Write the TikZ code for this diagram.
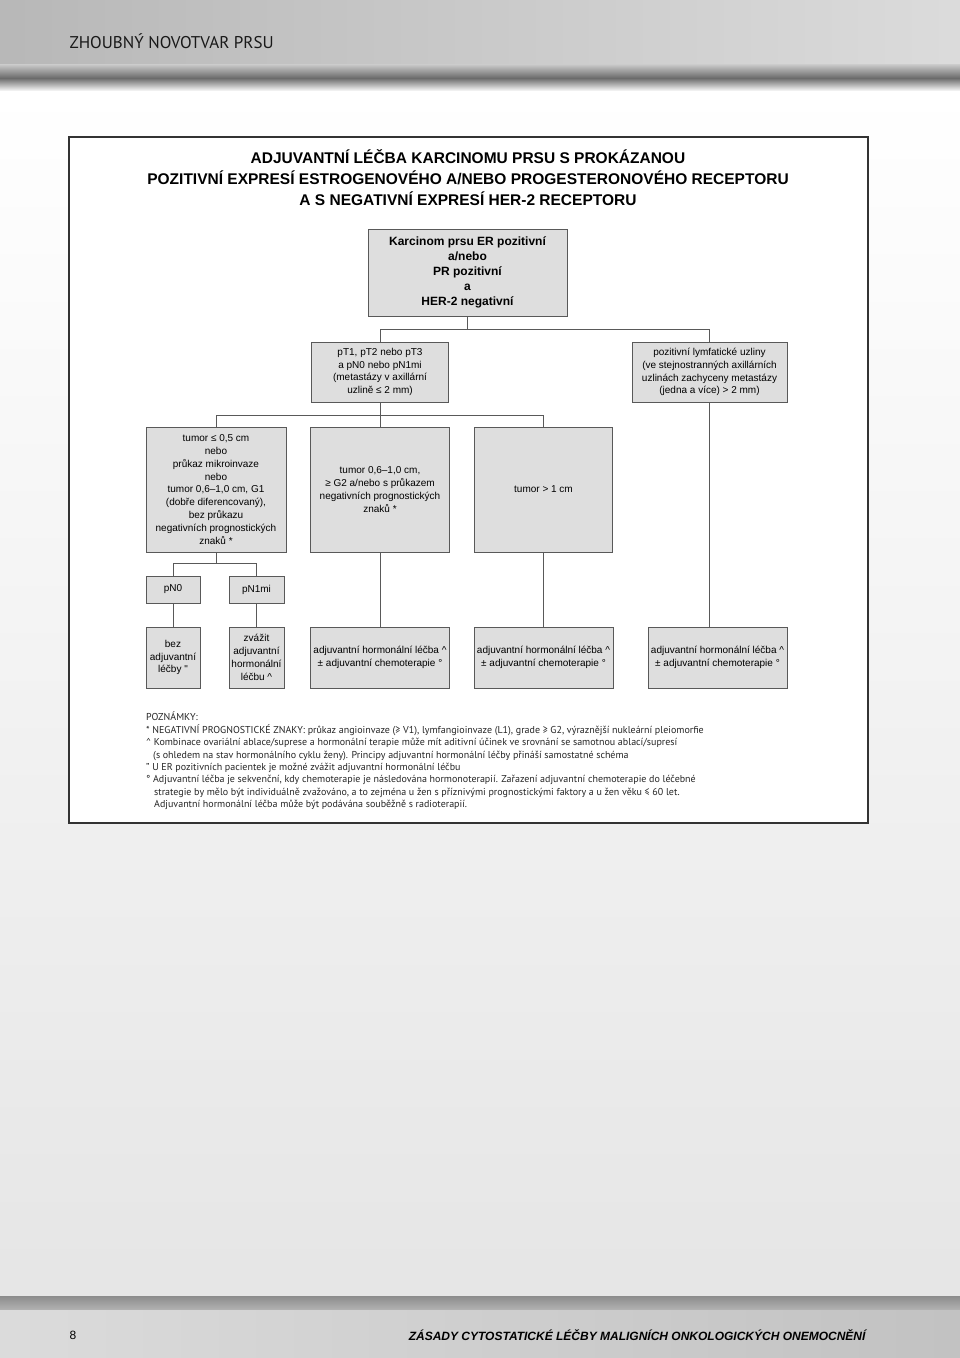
\documentclass[tikz,border=0pt]{standalone}
\usepackage{fontspec}
\setmainfont{PT Sans}
\newfontfamily\boxfont{Liberation Sans}
\usetikzlibrary{positioning, calc}

\begin{document}
\begin{tikzpicture}[x=1pt, y=-1pt,
  boxnode/.style={draw=black!65, fill=black!13, line width=1pt,
                  align=center, inner sep=1pt, outer sep=0pt,
                  font=\boxfont\fontsize{10}{12.8}\selectfont},
  link/.style={draw=black!65, line width=0.9pt}
]

\def\W{960}
\def\H{1358}

% page background
\useasboundingbox (0,0) rectangle (\W,\H);
\shade[top color=white, bottom color=black!10] (0,88) rectangle (\W,1296);
\shade[left color=black!28, right color=black!14] (0,0) rectangle (\W,66);
\shade[top color=black!20, bottom color=black!58] (0,64) rectangle (\W,78);
\shade[top color=black!58, bottom color=black!6] (0,78) rectangle (\W,90);
\shade[top color=black!45, bottom color=black!30] (0,1296) rectangle (\W,1310);
\shade[left color=black!14, right color=black!24] (0,1310) rectangle (\W,\H);

\node[anchor=west, font=\fontsize{17}{19}\selectfont, text=black!90] (runhead) at (66,41) {ZHOUBNÝ NOVOTVAR PRSU};
\node[anchor=west, font=\boxfont\fontsize{12}{14}\selectfont] (pagenum) at (66,1335) {8};
\node[anchor=east, font=\boxfont\bfseries\itshape\fontsize{12}{14}\selectfont] (runfoot) at (869,1335)
  {ZÁSADY CYTOSTATICKÉ LÉČBY MALIGNÍCH ONKOLOGICKÝCH ONEMOCNĚNÍ};

% frame
\draw[line width=2.2pt, draw=black!80, fill=white] (69,137) rectangle (868,823);

\node[align=center, font=\boxfont\bfseries\fontsize{15.5}{21}\selectfont] (title) at (468,178) {
  ADJUVANTNÍ LÉČBA KARCINOMU PRSU S PROKÁZANOU\\
  POZITIVNÍ EXPRESÍ ESTROGENOVÉHO A/NEBO PROGESTERONOVÉHO RECEPTORU\\
  A S NEGATIVNÍ EXPRESÍ HER-2 RECEPTORU
};

% boxes
\node[boxnode, minimum width=199, minimum height=87, font=\boxfont\bfseries\fontsize{12}{15}\selectfont] (top) at (467.5,272.5)
  {Karcinom prsu ER pozitivní\\a/nebo\\PR pozitivní\\a\\HER-2 negativní};

\node[boxnode, minimum width=137, minimum height=60] (pt) at (380,372)
  {pT1, pT2 nebo pT3\\a pN0 nebo pN1mi\\(metastázy v axillární\\uzlině ≤ 2 mm)};
\node[boxnode, minimum width=155, minimum height=60] (lymf) at (709.5,372)
  {pozitivní lymfatické uzliny\\(ve stejnostranných axillárních\\uzlinách zachyceny metastázy\\(jedna a více) > 2 mm)};

\node[boxnode, minimum width=140, minimum height=125] (tumA) at (216,489.5)
  {tumor ≤ 0,5 cm\\nebo\\průkaz mikroinvaze\\nebo\\tumor 0,6–1,0 cm, G1\\(dobře diferencovaný),\\bez průkazu\\negativních prognostických\\znaků *};
\node[boxnode, minimum width=139, minimum height=125] (tumB) at (380,489.5)
  {tumor 0,6–1,0 cm,\\≥ G2 a/nebo s průkazem\\negativních prognostických\\znaků *};
\node[boxnode, minimum width=138, minimum height=125] (tumC) at (543.5,489.5)
  {tumor > 1 cm};

\node[boxnode, minimum width=54, minimum height=27] (pnO) at (173,589.5) {pN0};
\node[boxnode, minimum width=55, minimum height=27] (pnI) at (256.5,589.5) {pN1mi};

\node[boxnode, minimum width=54, minimum height=61] (bez) at (173,657.5)
  {bez\\adjuvantní\\léčby "};
\node[boxnode, minimum width=55, minimum height=61] (zvaz) at (256.5,657.5)
  {zvážit\\adjuvantní\\hormonální\\léčbu \textasciicircum};
\node[boxnode, minimum width=139, minimum height=61] (adjA) at (380,657.5)
  {adjuvantní hormonální léčba \textasciicircum\\± adjuvantní chemoterapie °};
\node[boxnode, minimum width=139, minimum height=61] (adjB) at (543.5,657.5)
  {adjuvantní hormonální léčba \textasciicircum\\± adjuvantní chemoterapie °};
\node[boxnode, minimum width=139, minimum height=61] (adjC) at (717.5,657.5)
  {adjuvantní hormonální léčba \textasciicircum\\± adjuvantní chemoterapie °};

% connectors
\coordinate (j1) at (0,329);
\coordinate (j2) at (0,415);
\coordinate (j3) at (0,563);

\draw[link] (top.south) -- (top.south |- j1);
\draw[link] (pt.north) -- (pt.north |- j1) -| (lymf.north);
\draw[link] (pt.south) -- (tumB.north);
\draw[link] (tumA.north) -- (tumA.north |- j2) -| (tumC.north);
\draw[link] (tumA.south) -- (tumA.south |- j3);
\draw[link] (pnO.north) -- (pnO.north |- j3) -| (pnI.north);
\draw[link] (pnO.south) -- (bez.north);
\draw[link] (pnI.south) -- (zvaz.north);
\draw[link] (tumB.south) -- (adjA.north);
\draw[link] (tumC.south) -- (adjB.north);
\draw[link] (lymf.south) -- (lymf.south |- adjC.north);

% notes
\node[anchor=north west, align=left, inner sep=0pt, text=black!85,
      font=\fontsize{10}{12.4}\selectfont] (notes) at (146,712) {
  POZNÁMKY:\\
  * NEGATIVNÍ PROGNOSTICKÉ ZNAKY: průkaz angioinvaze (≥ V1), lymfangioinvaze (L1), grade ≥ G2, výraznější nukleární pleiomorfie\\
  \textasciicircum\ Kombinace ovariální ablace/suprese a hormonální terapie může mít aditivní účinek ve srovnání se samotnou ablací/supresí\\
  \hspace*{7pt}(s ohledem na stav hormonálního cyklu ženy). Principy adjuvantní hormonální léčby přináší samostatné schéma\\
  " U ER pozitivních pacientek je možné zvážit adjuvantní hormonální léčbu\\
  ° Adjuvantní léčba je sekvenční, kdy chemoterapie je následována hormonoterapií. Zařazení adjuvantní chemoterapie do léčebné\\
  \hspace*{8pt}strategie by mělo být individuálně zvažováno, a to zejména u žen s příznivými prognostickými faktory a u žen věku ≤ 60 let.\\
  \hspace*{8pt}Adjuvantní hormonální léčba může být podávána souběžně s radioterapií.
};

\end{tikzpicture}
\end{document}
